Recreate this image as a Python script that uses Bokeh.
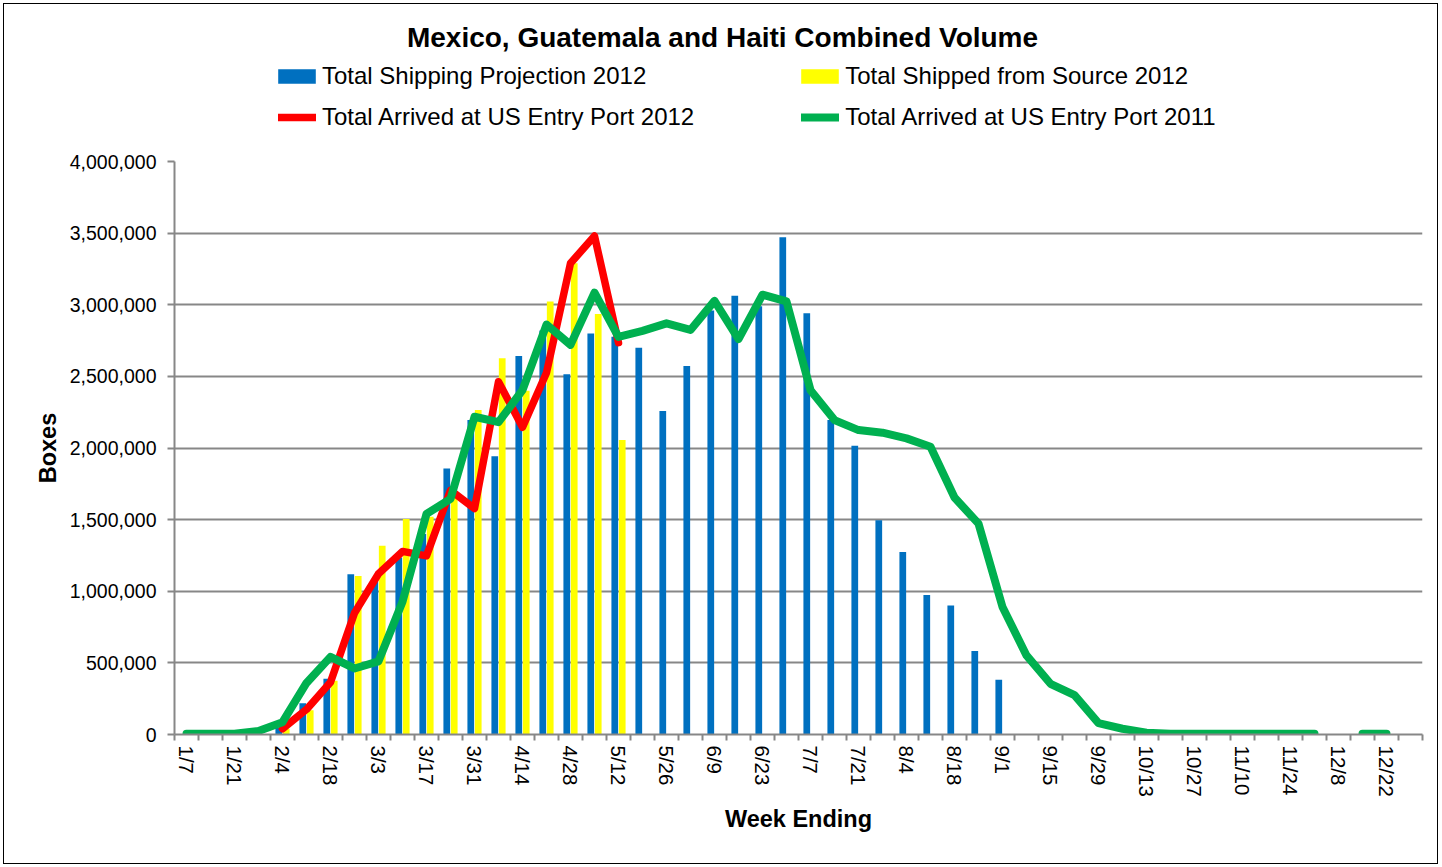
import numpy as np
from bokeh.plotting import figure
from bokeh.layouts import column
from bokeh.models import (ColumnDataSource, Range1d, FixedTicker, NumeralTickFormatter,
                          Legend, LegendItem, Label)
from bokeh.embed import file_html
from bokeh.resources import INLINE

# ---------------- data ----------------
weeks = ["1/7", "1/14", "1/21", "1/28", "2/4", "2/11", "2/18", "2/25", "3/3", "3/10",
         "3/17", "3/24", "3/31", "4/7", "4/14", "4/21", "4/28", "5/5", "5/12", "5/19",
         "5/26", "6/2", "6/9", "6/16", "6/23", "6/30", "7/7", "7/14", "7/21", "7/28",
         "8/4", "8/11", "8/18", "8/25", "9/1", "9/8", "9/15", "9/22", "9/29", "10/6",
         "10/13", "10/20", "10/27", "11/3", "11/10", "11/17", "11/24", "12/1", "12/8",
         "12/15", "12/22", "12/29"]

projection_2012 = [None, None, None, None, 45000, 219000, 390000, 1118000, 1085000, 1235000,
                   1400000, 1857000, 2195000, 1943000, 2642000, 2820000, 2514000, 2800000,
                   2777000, 2700000, 2258000, 2572000, 2960000, 3062000, 2990000, 3472000,
                   2940000, 2195000, 2015000, 1495000, 1274000, 973000, 900000, 583000,
                   382000, None, None, None, None, None, None, None, None, None, None, None,
                   None, None, None, None, None, None]

shipped_2012 = [None, None, None, None, 40000, 169000, 375000, 1106000, 1317000, 1505000,
                1520000, 1680000, 2265000, 2626000, 2400000, 3022000, 3290000, 2935000,
                2055000] + [None] * 33

arrived_2012 = [None, None, None, None, 40000, 175000, 365000, 848000, 1122000, 1278000,
                1247000, 1705000, 1577000, 2463000, 2145000, 2525000, 3290000, 3480000,
                2735000] + [None] * 33

arrived_2011 = [5000, 5000, 5000, 25000, 86000, 360000, 542000, 461000, 511000, 927000,
                1540000, 1645000, 2218000, 2180000, 2404000, 2862000, 2720000, 3085000,
                2775000, 2818000, 2870000, 2824000, 3027000, 2760000, 3070000, 3023000,
                2404000, 2195000, 2125000, 2107000, 2067000, 2009000, 1654000, 1472000,
                890000, 552000, 354000, 275000, 79000, 40000, 12000, 5000, 5000, 5000,
                5000, 5000, 5000, 5000, None, 5000, 5000, None]

y_ticks = [0, 500000, 1000000, 1500000, 2000000, 2500000, 3000000, 3500000, 4000000]

title_text = "Mexico, Guatemala and Haiti Combined Volume"
series_names = ["Total Shipping Projection 2012", "Total Shipped from Source 2012",
                "Total Arrived at US Entry Port 2012", "Total Arrived at US Entry Port 2011"]

# ---------------- helpers ----------------
def arr(lst):
    return np.array([np.nan if v is None else v for v in lst], dtype=float)

n = len(weeks)
xc = np.arange(n) + 0.5
proj = arr(projection_2012)
ship = arr(shipped_2012)
arr12 = arr(arrived_2012)
arr11 = arr(arrived_2011)

FONT = "Liberation Sans"
GRID = "#878787"
BLUE, YELLOW, RED, GREEN = "#0070C0", "#FFFF00", "#FF0000", "#00B050"

W = 1433
TOP_H = 146
MAIN_H = 713
FRAME_LEFT = 170   # the header figure's frame is aligned with the main frame

# ================= header figure (title + legend) =================
top = figure(width=W, height=TOP_H, x_range=Range1d(0, 1), y_range=Range1d(0, 1),
             x_axis_type=None, y_axis_type=None, output_backend="svg",
             toolbar_location=None, min_border=0)
top.outline_line_color = None
top.grid.visible = False

# legend swatches only: a single missing value, so nothing is drawn in the header
swatch_bar = ColumnDataSource(dict(x=[np.nan], top=[np.nan]))
swatch_line = ColumnDataSource(dict(x=[np.nan], y=[np.nan]))
k_blue = top.vbar(x="x", top="top", width=0.28, source=swatch_bar, fill_color=BLUE, line_color=None)
k_yel = top.vbar(x="x", top="top", width=0.28, source=swatch_bar, fill_color=YELLOW, line_color=None)
k_red = top.line(x="x", y="y", source=swatch_line, line_color=RED, line_width=7.5, line_cap="round")
k_green = top.line(x="x", y="y", source=swatch_line, line_color=GREEN, line_width=8, line_cap="round")

leg1 = Legend(items=[LegendItem(label=series_names[0], renderers=[k_blue]),
                     LegendItem(label=series_names[1], renderers=[k_yel])],
              orientation="horizontal", location=(269 - FRAME_LEFT, 60),
              glyph_width=47, glyph_height=18, label_standoff=2, spacing=150,
              padding=0, margin=0, border_line_color=None, background_fill_alpha=0,
              label_text_font=FONT, label_text_font_size="24px", label_text_color="black")
leg2 = Legend(items=[LegendItem(label=series_names[2], renderers=[k_red]),
                     LegendItem(label=series_names[3], renderers=[k_green])],
              orientation="horizontal", location=(274 - FRAME_LEFT, 19),
              glyph_width=38, glyph_height=18, label_standoff=6, spacing=107,
              padding=0, margin=0, border_line_color=None, background_fill_alpha=0,
              label_text_font=FONT, label_text_font_size="24px", label_text_color="black")
top.add_layout(leg1)
top.add_layout(leg2)

top.add_layout(Label(x=718 - FRAME_LEFT, y=TOP_H - 33, x_units="screen", y_units="screen",
                     text=title_text, text_font=FONT, text_font_style="bold",
                     text_font_size="28px", text_align="center", text_baseline="middle",
                     text_color="black"))

# ================= main chart =================
p = figure(width=W, height=MAIN_H, x_range=Range1d(0, n), y_range=Range1d(0, y_ticks[-1]),
           output_backend="svg", toolbar_location=None,
           min_border_left=FRAME_LEFT, min_border_right=15, min_border_top=11,
           min_border_bottom=129)
p.outline_line_color = None
p.background_fill_color = "white"
p.border_fill_color = "white"

mb = ~np.isnan(proj)
src_b = ColumnDataSource(dict(x=xc[mb] - 0.155, top=proj[mb]))
p.vbar(x="x", top="top", bottom=0, width=0.28, source=src_b, fill_color=BLUE, line_color=None)

my = ~np.isnan(ship)
src_y = ColumnDataSource(dict(x=xc[my] + 0.155, top=ship[my]))
p.vbar(x="x", top="top", bottom=0, width=0.28, source=src_y, fill_color=YELLOW, line_color=None)

p.line(xc, arr12, line_color=RED, line_width=7.5, line_join="round", line_cap="round")
p.line(xc, arr11, line_color=GREEN, line_width=8, line_join="round", line_cap="round")

# ---------------- axes ----------------
p.yaxis.ticker = FixedTicker(ticks=y_ticks)
p.yaxis.formatter = NumeralTickFormatter(format="0,0")
p.yaxis.axis_label = "Boxes"
p.yaxis.axis_label_text_font = FONT
p.yaxis.axis_label_text_font_style = "bold"
p.yaxis.axis_label_text_font_size = "23.5px"
p.yaxis.axis_label_text_color = "black"
p.yaxis.axis_label_standoff = 6
p.yaxis.major_label_text_font = FONT
p.yaxis.major_label_text_font_size = "19.5px"
p.yaxis.major_label_text_color = "black"
p.yaxis.major_label_standoff = 11
p.yaxis.major_tick_out = 7
p.yaxis.major_tick_in = 0
p.yaxis.minor_tick_out = 0
p.yaxis.minor_tick_in = 0
p.yaxis.major_tick_line_color = GRID
p.yaxis.major_tick_line_width = 2
p.yaxis.axis_line_color = GRID
p.yaxis.axis_line_width = 2

p.ygrid.ticker = FixedTicker(ticks=y_ticks)
p.ygrid.grid_line_color = GRID
p.ygrid.grid_line_width = 2
p.xgrid.visible = False

label_pos = [i + 0.5 for i in range(0, n, 2)]
p.xaxis.ticker = FixedTicker(ticks=label_pos, minor_ticks=list(range(n + 1)))
p.xaxis.major_label_overrides = {i + 0.5: weeks[i] for i in range(0, n, 2)}
p.xaxis.major_label_orientation = "vertical"
p.xaxis.major_label_text_font = FONT
p.xaxis.major_label_text_font_size = "20.5px"
p.xaxis.major_label_text_color = "black"
p.xaxis.major_label_standoff = 5
p.xaxis.major_tick_line_color = None
p.xaxis.major_tick_out = 0
p.xaxis.major_tick_in = 0
p.xaxis.minor_tick_out = 6
p.xaxis.minor_tick_in = 0
p.xaxis.minor_tick_line_color = GRID
p.xaxis.minor_tick_line_width = 2
p.xaxis.axis_line_color = GRID
p.xaxis.axis_line_width = 2
p.xaxis.axis_label = "Week Ending"
p.xaxis.axis_label_text_font = FONT
p.xaxis.axis_label_text_font_style = "bold"
p.xaxis.axis_label_text_font_size = "23.5px"
p.xaxis.axis_label_text_color = "black"
p.xaxis.axis_label_standoff = 6

layout = column(top, p, spacing=0,
                styles={"border": "1px solid #000000", "margin": "3px 0 0 3px"})

open("out.html", "w").write(file_html(layout, INLINE))
